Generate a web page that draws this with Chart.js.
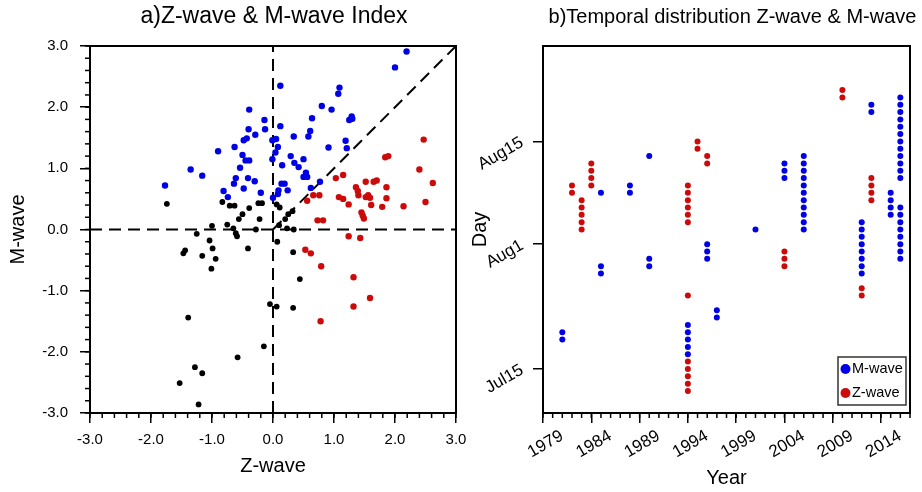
<!DOCTYPE html>
<html>
<head>
<meta charset="utf-8">
<script src="https://cdn.jsdelivr.net/npm/chart.js@4/dist/chart.umd.min.js"></script>
<style>
  body { margin: 0; background: #fff; width: 922px; height: 492px; position: relative; overflow: hidden; }
  canvas { position: absolute; top: 0; }
  #left { left: 0; }
  #right { left: 461px; }
</style>
</head>
<body>
<canvas id="left" width="480" height="492"></canvas>
<canvas id="right" width="461" height="492"></canvas>
<script>
// a) Z-wave & M-wave index (x = Z-wave, y = M-wave)
const mWaveZ = [-1.77,-1.35,-1.16,-0.90,-0.81,-0.74,-0.63,-0.64,-0.61,-0.54,-0.50,-0.48,-0.43,-0.39,-0.40,-0.45,-0.39,-0.48,-0.41,-0.29,-0.30,-0.20,-0.14,-0.13,-0.01,-0.01,0.00,0.05,0.04,0.08,0.12,0.12,0.34,0.15,0.29,0.35,0.42,0.50,0.54,0.50,0.56,0.14,0.19,0.09,0.08,0.24,0.58,0.61,0.64,0.80,0.96,0.91,0.62,0.77,1.07,1.09,1.25,1.29,1.30,1.19,1.21,2.00,2.19];
const mWaveM = [0.72,0.98,0.88,1.28,0.63,0.53,1.35,0.75,0.84,1.01,1.22,1.46,1.49,1.96,1.64,1.13,1.13,0.67,0.84,1.55,0.79,0.60,1.79,1.64,1.46,1.15,0.52,1.48,1.26,1.35,2.35,1.69,1.52,1.05,1.20,1.09,1.02,1.15,0.93,0.86,0.86,0.75,0.75,0.64,0.58,0.64,1.52,1.61,1.82,2.02,1.96,1.34,0.68,0.78,2.22,2.32,1.79,1.85,1.81,1.45,1.33,2.65,2.91];
const zWaveZ = [2.47,1.84,1.89,2.40,2.62,2.50,2.14,1.86,1.86,1.79,1.65,1.70,1.52,1.36,1.39,1.40,1.52,1.56,1.59,1.61,1.45,1.47,1.49,1.08,1.15,1.24,1.03,1.15,0.66,0.76,0.56,0.73,0.82,1.24,1.43,0.53,0.62,0.79,1.32,1.59,1.32,0.78];
const zWaveM = [1.47,1.18,1.20,0.98,0.76,0.45,0.38,0.69,0.51,0.37,0.78,0.80,0.78,0.69,0.63,0.56,0.53,0.56,0.52,0.40,0.28,0.23,0.18,0.53,0.50,0.41,0.84,0.89,0.56,0.56,0.47,0.15,0.15,-0.11,-0.14,-0.33,-0.39,-0.60,-0.78,-1.12,-1.26,-1.50];
const otherZ = [-1.74,-0.83,-0.71,-0.63,-0.24,-0.18,-0.39,0.06,0.11,-0.50,-0.56,-0.22,0.32,0.25,0.20,0.10,-1.00,-0.75,-0.65,-1.25,-0.61,-0.59,-0.28,0.23,0.34,-1.04,-0.99,-0.41,0.07,0.33,-1.47,-1.44,-1.16,-0.94,-1.01,0.44,-0.05,0.06,0.33,-0.15,-1.39,-0.58,-1.28,-1.16,-1.53,-1.22];
const otherM = [0.42,0.45,0.39,0.39,0.43,0.43,0.35,0.41,0.36,0.25,0.17,0.17,0.30,0.25,0.17,0.07,0.06,0.08,0.02,-0.07,-0.06,-0.11,0.00,0.02,0.00,-0.18,-0.31,-0.31,-0.20,-0.37,-0.39,-0.34,-0.43,-0.48,-0.64,-0.81,-1.22,-1.26,-1.28,-1.91,-1.44,-2.09,-2.25,-2.35,-2.51,-2.86];
// dashed reference lines: y=0, x=0, and y=x
const hLine = [{x: -3, y: 0}, {x: 3, y: 0}];
const vLine = [{x: 0, y: -3}, {x: 0, y: 3}];
const dLine = [{x: 0, y: 0}, {x: 3, y: 3}];

// b) temporal distribution (day index: Jul15 = 15, Aug1 = 32, Aug15 = 46)
const mYear = [1981,1981,1985,1985,1985,1988,1988,1990,1990,1990,1994,1994,1994,1994,1994,1996,1996,1996,1997,1997,2001,2004,2004,2004,
  2006,2006,2006,2006,2006,2006,2006,2006,2006,2006,2006,2012,2012,2012,2012,2012,2012,2012,2012,2013,2013,2015,2015,2015,2015,
  2016,2016,2016,2016,2016,2016,2016,2016,2016,2016,2016,2016,2016,2016,2016,2016,2016,2016,2016,2016];
const mDay = [19,20,28,29,39,39,40,29,30,44,17,18,19,20,21,30,31,32,22,23,34,41,42,43,
  34,35,36,37,38,39,40,41,42,43,44,28,29,30,31,32,33,34,35,50,51,36,37,38,39,
  30,31,32,33,34,35,36,37,41,42,43,44,45,46,47,48,49,50,51,52];
const zYear = [1982,1982,1983,1983,1983,1983,1983,1984,1984,1984,1984,
  1994,1994,1994,1994,1994,1994,1994,1994,1994,1994,1994,1994,1995,1995,1996,1996,2004,2004,2004,2010,2010,2012,2012,2013,2013,2013,2013];
const zDay = [39,40,34,35,36,37,38,40,41,42,43,
  12,13,14,15,16,25,35,36,37,38,39,40,45,46,43,44,29,30,31,52,53,25,26,38,39,40,41];
const yearTicks = [1979,1984,1989,1994,1999,2004,2009,2014];
const dayTicks = [15,32,46];
const dayLabels = ['Jul15','Aug1','Aug15'];

const FONT = '"Liberation Sans", Arial, Helvetica, sans-serif';
Chart.defaults.font.family = FONT;
Chart.defaults.color = '#000';
const BLUE = '#0000e6';
const RED = '#cc0a0a';

function pts(xs, ys) {
  return xs.map((x, i) => ({x: x, y: ys[i]}));
}

// box around the plot + short minor tick marks
const frameTicks = {
  id: 'frameTicks',
  afterDraw(chart, args, opts) {
    const ctx = chart.ctx, a = chart.chartArea;
    ctx.save();
    ctx.strokeStyle = '#000';
    ctx.lineWidth = 1.5;
    (opts.minor || []).forEach(m => {
      const s = chart.scales[m.axis];
      for (let v = s.min; v <= s.max + 1e-9; v += m.step) {
        const p = s.getPixelForValue(v);
        ctx.beginPath();
        if (m.axis === 'x') { ctx.moveTo(p, a.bottom); ctx.lineTo(p, a.bottom + 5); }
        else { ctx.moveTo(a.left, p); ctx.lineTo(a.left - 5, p); }
        ctx.stroke();
      }
    });
    ctx.lineWidth = 2;
    ctx.strokeRect(a.left, a.top, a.right - a.left, a.bottom - a.top);
    ctx.restore();
  }
};

// title centred over the plot area
const areaTitle = {
  id: 'areaTitle',
  afterDraw(chart, args, opts) {
    const ctx = chart.ctx, a = chart.chartArea;
    ctx.save();
    ctx.font = opts.size + 'px ' + FONT;
    ctx.fillStyle = '#000';
    ctx.textAlign = 'center';
    ctx.textBaseline = 'middle';
    ctx.fillText(opts.text, (a.left + a.right) / 2 + (opts.dx || 0), opts.y);
    ctx.restore();
  }
};

// boxed legend inside the lower right corner
const boxLegend = {
  id: 'boxLegend',
  afterDraw(chart, args, opts) {
    if (!opts.display) return;
    const ctx = chart.ctx, a = chart.chartArea;
    const w = 68, h = 48;
    const x0 = a.right - 4 - w, y0 = a.bottom - 8 - h;
    ctx.save();
    ctx.fillStyle = '#fff';
    ctx.fillRect(x0, y0, w, h);
    ctx.strokeStyle = '#333';
    ctx.lineWidth = 1.5;
    ctx.strokeRect(x0, y0, w, h);
    ctx.font = '14.5px ' + FONT;
    ctx.textBaseline = 'middle';
    chart.data.datasets.forEach((ds, i) => {
      const cy = y0 + 12 + i * 24;
      ctx.fillStyle = ds.backgroundColor;
      ctx.beginPath();
      ctx.arc(x0 + 7.5, cy, 5, 0, Math.PI * 2);
      ctx.fill();
      ctx.fillStyle = '#000';
      ctx.fillText(ds.label, x0 + 14, cy);
    });
    ctx.restore();
  }
};

function dashed(data) {
  return {data: data, showLine: true, borderColor: '#000', borderWidth: 2,
    borderDash: [12, 7], pointRadius: 0, order: 5};
}
function dots(label, data, color, r) {
  return {label: label, data: data, backgroundColor: color, borderColor: color,
    borderWidth: 0, pointRadius: r, pointHoverRadius: r, order: 1};
}

new Chart(document.getElementById('left'), {
  type: 'scatter',
  data: {
    datasets: [
      dashed(hLine), dashed(vLine), dashed(dLine),
      dots('M-wave', pts(mWaveZ, mWaveM), BLUE, 3.2),
      dots('Z-wave', pts(zWaveZ, zWaveM), RED, 3.2),
      dots('other', pts(otherZ, otherM), '#000', 2.9)
    ]
  },
  options: {
    responsive: false,
    animation: false,
    layout: {padding: {top: 46, right: 24, left: 0, bottom: 0}},
    plugins: {
      legend: {display: false},
      tooltip: {enabled: false},
      areaTitle: {text: 'a)Z-wave & M-wave Index', size: 23, y: 17, dx: 1},
      frameTicks: {minor: [{axis: 'x', step: 0.2}, {axis: 'y', step: 0.2}]},
      boxLegend: {display: false}
    },
    scales: {
      x: {
        type: 'linear', min: -3, max: 3,
        ticks: {stepSize: 1, callback: v => v.toFixed(1), font: {size: 15}, padding: 8, maxRotation: 0},
        grid: {drawOnChartArea: false, color: '#000', lineWidth: 1.5, tickLength: 10},
        border: {color: '#000', width: 2},
        title: {display: true, text: 'Z-wave', font: {size: 20}, padding: {top: 0, bottom: 14}},
        afterFit(s) { s.height = 79; s.paddingLeft = 0; s.paddingRight = 0; }
      },
      y: {
        type: 'linear', min: -3, max: 3,
        ticks: {stepSize: 1, callback: v => v.toFixed(1), font: {size: 15}, padding: 12},
        grid: {drawOnChartArea: false, color: '#000', lineWidth: 1.5, tickLength: 10},
        border: {color: '#000', width: 2},
        title: {display: true, text: 'M-wave', font: {size: 20}, padding: {top: 6, bottom: 0}},
        afterFit(s) { s.width = 90; }
      }
    }
  },
  plugins: [frameTicks, areaTitle, boxLegend]
});

new Chart(document.getElementById('right'), {
  type: 'scatter',
  data: {
    datasets: [
      dots('M-wave', pts(mYear, mDay), BLUE, 3),
      dots('Z-wave', pts(zYear, zDay), RED, 3)
    ]
  },
  options: {
    responsive: false,
    animation: false,
    layout: {padding: {top: 46, right: 12, left: 0, bottom: 0}},
    plugins: {
      legend: {display: false},
      tooltip: {enabled: false},
      areaTitle: {text: 'b)Temporal distribution Z-wave & M-wave', size: 20, y: 17, dx: 6},
      frameTicks: {minor: [{axis: 'x', step: 1}]},
      boxLegend: {display: true}
    },
    scales: {
      x: {
        type: 'linear', min: 1979, max: 2017,
        afterBuildTicks(s) { s.ticks = yearTicks.map(v => ({value: v})); },
        ticks: {callback: v => String(v), minRotation: 30, maxRotation: 30, font: {size: 17}, padding: 3, labelOffset: 19},
        grid: {drawOnChartArea: false, color: '#000', lineWidth: 1.5, tickLength: 10},
        border: {color: '#000', width: 2},
        title: {display: true, text: 'Year', font: {size: 20}, padding: {top: 0, bottom: 2}},
        afterFit(s) { s.height = 79; }
      },
      y: {
        type: 'linear', min: 9, max: 59,
        afterBuildTicks(s) { s.ticks = dayTicks.map(v => ({value: v})); },
        ticks: {callback: (v, i) => dayLabels[i], minRotation: 30, maxRotation: 30, font: {size: 17}, padding: 11},
        grid: {drawOnChartArea: false, color: '#000', lineWidth: 1.5, tickLength: 10},
        border: {color: '#000', width: 2},
        title: {display: true, text: 'Day', font: {size: 20}, padding: {top: 7, bottom: 0}},
        afterFit(s) { s.width = 82; }
      }
    }
  },
  plugins: [frameTicks, areaTitle, boxLegend]
});
</script>
</body>
</html>
